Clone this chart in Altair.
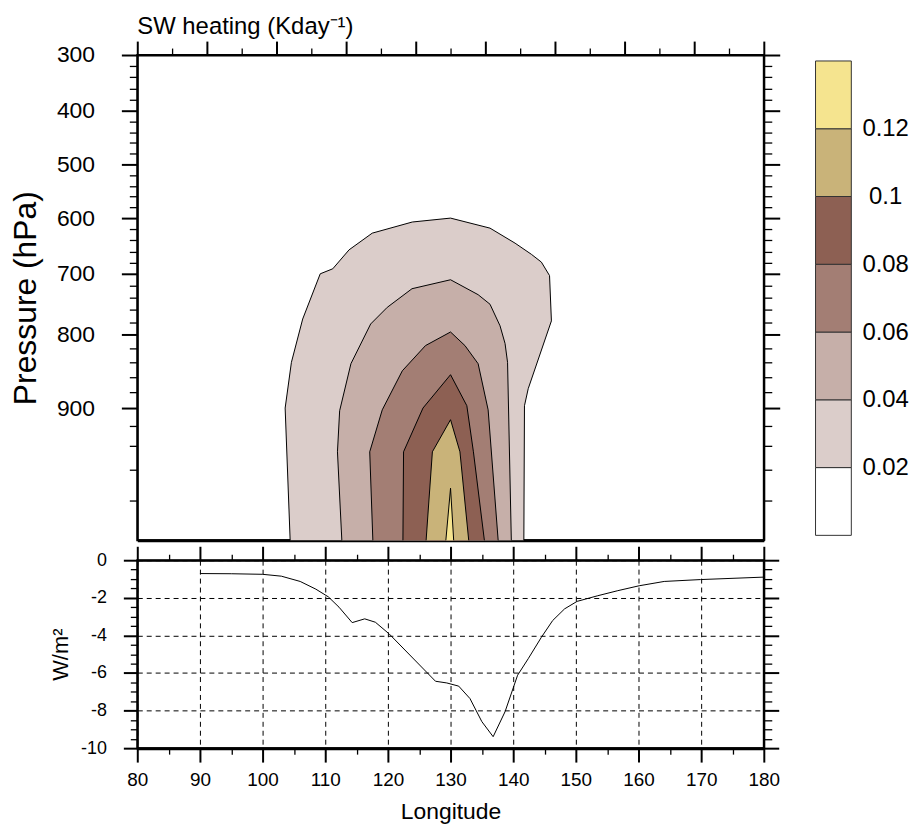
import altair as alt
import pandas as pd

# ---------------- data ----------------
# Filled contours of SW heating (K/day): outline of each level, lon / pressure (hPa)
contour_levels = ["0.02", "0.04", "0.06", "0.08", "0.1", "0.12"]
contour_colors = ["#DBCDCA", "#C6AFA9", "#A37E74", "#8D6053", "#C9B379", "#F5E48F"]

lon_002 = [104.4, 103.6, 104.6, 106.4, 109.2, 111.2, 113.8, 117.5, 123.9, 130.0,
           136.3, 140.3, 142.9, 144.5, 145.8, 146.1, 142.4, 141.8, 141.7]
p_002 = [1000, 900, 840, 775, 700, 691, 657, 627, 607, 600,
         618, 645, 665, 679, 703, 778, 875, 897, 1000]

lon_004 = [112.65, 111.95, 112.3, 114.1, 117.25, 119.9, 123.85, 130.0,
           134.4, 136.3, 137.9, 138.7, 139.1, 139.7]
p_004 = [1000, 945, 903, 842, 783, 756, 725, 710, 735, 751, 786, 813, 840, 1000]

lon_006 = [117.6, 117.1, 119.1, 122.3, 126.0, 130.0, 132.3, 134.4, 136.0, 137.6]
p_006 = [1000, 945, 902, 852, 816, 796, 816, 842, 902, 1000]

lon_008 = [122.4, 122.5, 125.6, 130.0, 132.6, 133.65, 135.4]
p_008 = [1000, 945, 900, 857, 897, 945, 1000]

lon_010 = [126.1, 127.1, 130.0, 131.5, 132.9]
p_010 = [1000, 945, 913, 945, 1000]

lon_012 = [129.25, 130.0, 130.5]
p_012 = [1000, 972, 1000]

contour_lon = [lon_002, lon_004, lon_006, lon_008, lon_010, lon_012]
contour_p = [p_002, p_004, p_006, p_008, p_010, p_012]

# Surface SW flux (W/m2) along longitude
flux_lon = [90, 95, 100, 103, 106, 108.5, 110.5, 112.2, 114.3, 116.3, 118, 120.2,
            127.6, 129.4, 131.3, 133.1, 135, 136.8, 138.7, 140.7, 142.4, 144.5,
            146.3, 148.2, 150.2, 153.5, 156.7, 160.1, 164.1, 169.9, 180]
flux_val = [-0.71, -0.72, -0.75, -0.85, -1.13, -1.54, -1.95, -2.5, -3.32, -3.12, -3.3, -3.92,
            -6.44, -6.53, -6.7, -7.36, -8.59, -9.39, -8.06, -6.12, -5.24, -4.1,
            -3.21, -2.59, -2.19, -1.89, -1.62, -1.36, -1.13, -1.03, -0.9]

# Colour bar boxes
cbar_lo = [0.0, 0.02, 0.04, 0.06, 0.08, 0.10, 0.12]
cbar_hi = [0.02, 0.04, 0.06, 0.08, 0.10, 0.12, 0.14]
cbar_colors = ["#FFFFFF"] + contour_colors
cbar_labels = [0.02, 0.04, 0.06, 0.08, 0.1, 0.12]

# Tick values
p_ticks = list(range(300, 1000, 20))
top_lon_ticks = [80, 85.56, 91.11, 96.67, 102.22, 107.78, 113.33, 118.89, 124.44, 130,
                 135.56, 141.11, 146.67, 152.22, 157.78, 163.33, 168.89, 174.44, 180]
lon_ticks = list(range(80, 185, 5))
flux_ticks = [-10 + 0.5 * k for k in range(21)]

FONT = "Liberation Sans"


def cond(test, a, b):
    return {"condition": {"test": test, "value": a}, "value": b}


# ---------------- top panel: contours ----------------
xs = alt.Scale(domain=[80, 180], nice=False, zero=False)
ys = alt.Scale(domain=[300, 400, 500, 600, 700, 750, 800, 850, 900, 920, 940, 960, 980, 1000],
               range=[0, 56, 110, 164, 220, 250, 281, 316, 355, 373, 393, 417, 448, 488],
               nice=False, zero=False)

ptest = "datum.value % 100 === 0"
ttest = "round((datum.value - 80) * 0.18) % 2 === 0"

layers = []
for k in range(len(contour_levels)):
    df = pd.DataFrame({"lon": contour_lon[k], "p": contour_p[k]})
    df["i"] = range(len(df))
    if k == 0:
        xax = alt.Axis(orient="top", values=top_lon_ticks, labels=False, title=None, grid=False,
                       tickSize=cond(ttest, 14, 7), tickWidth=cond(ttest, 2, 1.3), domainWidth=2)
        yax = alt.Axis(orient="left", values=p_ticks,
                       labelExpr="datum.value % 100 === 0 ? '' + datum.value : ''",
                       title="Pressure (hPa)", titleFontSize=32, titlePadding=14,
                       labelFontSize=23, labelPadding=27, labelFlush=False, grid=False,
                       tickSize=cond(ptest, 16, 8), tickWidth=cond(ptest, 2, 1.3), domainWidth=2)
        layers.append(alt.Chart(df).mark_line(fill=contour_colors[k], stroke="black", strokeWidth=1).encode(
            x=alt.X("lon:Q", scale=xs, axis=xax),
            y=alt.Y("p:Q", scale=ys, axis=yax),
            order="i:Q"))
    else:
        layers.append(alt.Chart(df).mark_line(fill=contour_colors[k], stroke="black", strokeWidth=1).encode(
            x=alt.X("lon:Q", scale=xs, axis=None),
            y=alt.Y("p:Q", scale=ys, axis=None),
            order="i:Q"))

frame_df = pd.DataFrame({"lon": lon_002, "p": p_002})
frame_top = alt.Chart(frame_df).mark_line(opacity=0).encode(
    x=alt.X("lon:Q", scale=xs, axis=alt.Axis(orient="bottom", ticks=False, labels=False, title=None,
                                             grid=False, domainWidth=3)),
    y=alt.Y("p:Q", scale=ys, axis=alt.Axis(orient="right", values=p_ticks, labels=False, title=None,
                                           grid=False, tickSize=cond(ptest, 16, 8),
                                           tickWidth=cond(ptest, 2, 1.3), domainWidth=2)))

top = alt.layer(*layers, frame_top).resolve_axis(x="independent", y="independent").properties(
    width=630, height=488,
    title=alt.Title("SW heating (Kday\u207b\u00b9)", anchor="start", frame="group", fontSize=24,
                    fontWeight="normal", font=FONT, offset=1, color="black"),
    view=alt.ViewBackground(stroke="black", strokeWidth=2))

# ---------------- bottom panel: surface flux ----------------
flux_df = pd.DataFrame({"lon": flux_lon, "val": flux_val})
xs2 = alt.Scale(domain=[80, 180], nice=False, zero=False)
ys2 = alt.Scale(domain=[-10, 0], nice=False, zero=False)
ltest = "datum.value % 10 === 0"
ftest = "datum.value % 2 === 0"

line = alt.Chart(flux_df).mark_line(color="black", strokeWidth=1).encode(
    x=alt.X("lon:Q", scale=xs2, axis=alt.Axis(
        orient="bottom", values=lon_ticks, labelExpr="datum.value % 10 === 0 ? '' + datum.value : ''",
        title="Longitude", titleFontSize=23, titlePadding=11, labelFontSize=19, labelPadding=9,
        labelFlush=False,
        tickSize=cond(ltest, 14, 6), tickWidth=cond(ltest, 2, 1.3), domainWidth=3,
        grid=True, gridColor="black", gridDash=[5, 4], gridWidth=1, gridOpacity=cond(ltest, 1, 0))),
    y=alt.Y("val:Q", scale=ys2, axis=alt.Axis(
        orient="left", values=flux_ticks,
        labelExpr="datum.value % 2 === 0 ? (datum.value < 0 ? '-' + abs(datum.value) : '' + datum.value) : ''",
        title="W/m\u00b2", titleFontSize=22, titlePadding=8, labelFontSize=18, labelPadding=17,
        labelFlush=False,
        tickSize=cond(ftest, 14, 7), tickWidth=cond(ftest, 2, 1.3), domainWidth=2,
        grid=True, gridColor="black", gridDash=[5, 4], gridWidth=1, gridOpacity=cond(ftest, 1, 0))),
    order="lon:Q")

frame_bot = alt.Chart(flux_df).mark_line(opacity=0).encode(
    x=alt.X("lon:Q", scale=xs2, axis=alt.Axis(
        orient="top", values=lon_ticks, labels=False, title=None, grid=False,
        tickSize=cond(ltest, 14, 6), tickWidth=cond(ltest, 2, 1.3), domainWidth=2)),
    y=alt.Y("val:Q", scale=ys2, axis=alt.Axis(
        orient="right", values=flux_ticks, labels=False, title=None, grid=False,
        tickSize=cond(ftest, 15, 8), tickWidth=cond(ftest, 2, 1.3), domainWidth=2)))

bottom = alt.layer(line, frame_bot).resolve_axis(x="independent", y="independent").properties(
    width=630, height=189, view=alt.ViewBackground(stroke="black", strokeWidth=2))

# ---------------- colour bar ----------------
cb_df = pd.DataFrame({"lo": cbar_lo, "hi": cbar_hi, "c": cbar_colors})
colorbar = alt.Chart(cb_df).mark_rect(stroke="#333333", strokeWidth=1).encode(
    y=alt.Y("lo:Q", scale=alt.Scale(domain=[0, 0.14], range=[483, 6], nice=False, zero=False),
            axis=alt.Axis(orient="right", values=cbar_labels, labelExpr="'' + datum.value",
                          tickSize=0, domain=False, labelAlign="center", labelPadding=34,
                          labelFontSize=24, labelFlush=False, title=None, grid=False)),
    y2="hi:Q",
    fill=alt.Fill("c:N", scale=None),
).properties(width=36, height=483,
             view=alt.ViewBackground(stroke="transparent"))

left = alt.vconcat(top, bottom, spacing=1)
chart = alt.hconcat(left, colorbar, spacing=33).properties(
    padding={"left": 0, "top": 4, "right": 0, "bottom": 0}
).configure(font=FONT).configure_axis(
    labelFont=FONT, titleFont=FONT, labelColor="black", titleColor="black",
    tickColor="black", domainColor="black", titleFontWeight="normal"
).configure_title(font=FONT, fontWeight="normal", color="black")

chart.save("out.html", embed_options={"renderer": "svg", "actions": False})
